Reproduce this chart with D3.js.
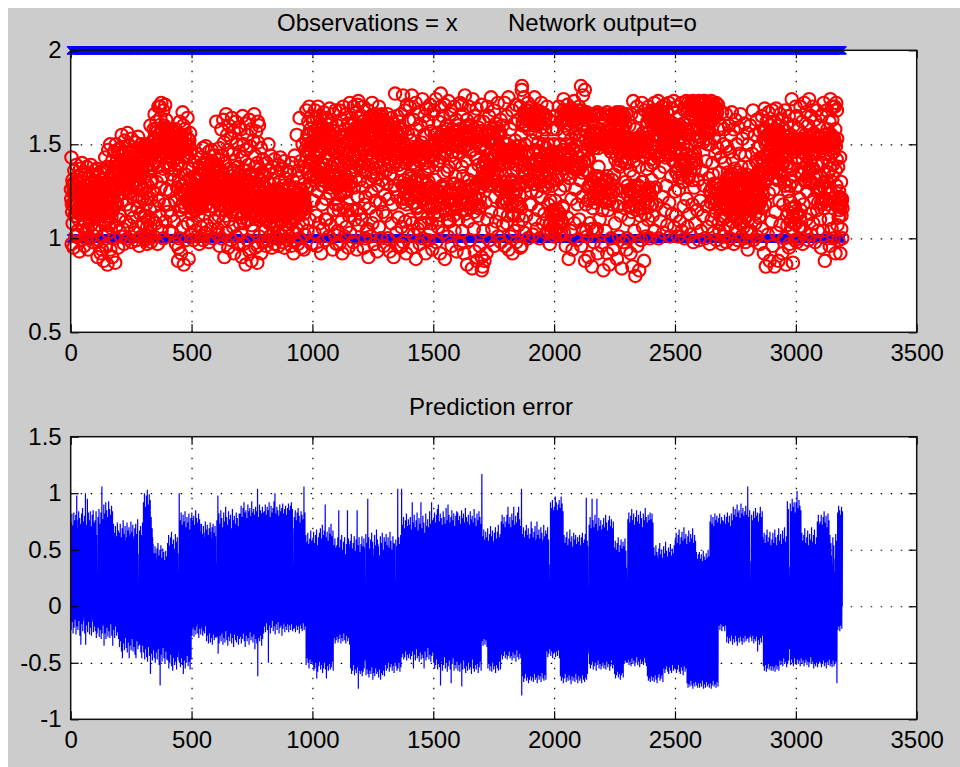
<!DOCTYPE html>
<html><head><meta charset="utf-8">
<script src="https://cdn.jsdelivr.net/npm/d3@7"></script>
<style>body{margin:0;background:#fff}svg{display:block}text{font-family:"Liberation Sans",Arial,sans-serif}</style>
</head><body><svg id="c" width="960" height="767"></svg>
<script>
// sample positions: t = tStart + i*tStep  (t = 1..3195)
const tStart = 1, tStep = 1;
const xTicks = [0,500,1000,1500,2000,2500,3000,3500];
const yTopTicks = [0.5,1,1.5,2];
const yBotTicks = [-1,-0.5,0,0.5,1,1.5];
const titleLeft = "Observations = x", titleRight = "Network output=o", title2 = "Prediction error";

// observations (class 1 or 2), one row per 100 samples
const obsA = [
2,1,2,1,2,1,2,1,2,1,2,1,2,1,2,1,2,1,2,1, 2,1,2,1,2,1,2,1,2,1,2,1,2,1,2,1,2,1,2,1, 2,1,2,1,2,1,2,1,2,1,2,1,2,1,2,1,2,1,2,1, 2,1,2,1,2,1,2,1,2,1,2,1,2,1,2,1,2,1,2,1, 2,1,2,1,2,1,2,1,2,1,2,1,2,1,2,1,2,1,2,1,
2,1,2,1,2,1,2,1,1,1,1,1,2,1,2,1,2,1,2,1, 2,1,2,1,2,1,2,1,2,1,2,1,2,1,2,1,2,1,2,1, 2,1,2,1,2,1,2,1,2,1,2,1,2,1,2,1,2,1,2,1, 2,1,2,1,2,1,2,1,2,1,2,1,2,1,2,1,2,1,2,1, 2,1,2,1,2,1,2,1,2,1,2,1,2,1,2,1,2,1,2,1,
2,1,2,1,2,1,2,1,2,1,2,1,2,1,2,1,2,1,2,1, 2,1,2,1,2,1,2,1,2,1,2,1,2,1,2,1,2,1,2,1, 2,1,2,1,2,1,2,1,2,1,2,1,2,1,2,1,2,1,2,1, 2,1,2,1,2,1,2,1,2,1,2,1,2,1,2,1,2,1,2,1, 1,1,1,1,2,1,2,1,2,1,2,1,2,1,2,1,2,1,2,1,
2,1,2,1,2,1,2,1,2,1,2,1,2,1,2,1,2,1,2,1, 2,1,2,1,2,1,2,1,2,1,2,1,2,1,2,1,2,1,2,1, 2,1,2,1,2,1,2,1,2,1,2,1,2,1,2,1,2,1,2,1, 2,1,2,1,2,1,2,1,2,1,2,1,2,1,2,1,2,1,2,1, 2,1,2,1,2,1,2,1,2,1,2,1,2,1,2,1,2,1,2,1,
2,1,2,1,2,1,2,1,2,1,2,1,2,1,2,1,2,1,2,1, 2,1,2,1,2,1,2,1,2,1,2,1,2,1,2,1,2,1,2,1, 2,1,2,1,1,1,1,1,2,1,2,1,2,1,2,1,2,1,2,1, 2,1,2,1,2,1,2,1,2,1,2,1,2,1,2,1,2,1,2,1, 2,1,2,1,2,1,2,1,2,1,2,1,2,1,2,1,2,1,2,1,
2,1,2,1,2,1,2,1,2,1,2,1,2,1,2,1,2,1,2,1, 2,1,2,1,2,1,2,1,2,1,2,1,2,1,2,1,2,1,2,1, 2,1,2,1,2,1,2,1,2,1,2,1,2,1,2,1,2,1,2,1, 2,1,2,1,2,1,2,1,2,1,2,1,2,1,2,1,2,1,2,1, 2,1,2,1,2,1,2,1,2,1,2,1,2,1,2,1,2,1,2,1,
1,2,1,1,2,1,2,1,2,1,2,1,2,1,2,1,2,1,2,1, 2,1,2,1,2,1,2,1,2,1,2,1,2,1,2,1,2,1,2,1, 2,1,2,1,2,1,2,1,2,1,2,1,2,1,2,1,2,1,2,1, 2,1,2,1,2,1,2,1,2,1,2,1,2,1,2,1,2,1,2,1, 2,1,2,1,2,1,2,1,2,1,2,1,2,1,2,1,2,1,2,1,
2,1,2,1,2,1,2,1,2,1,2,1,2,1,2,1,2,1,2,1, 2,1,2,1,2,1,2,1,2,1,2,1,2,1,2,1,2,1,2,1, 2,1,2,1,2,1,2,1,2,1,2,1,2,1,2,1,2,1,2,1, 2,1,2,1,2,1,2,1,2,1,2,1,2,1,2,1,2,1,2,1, 2,1,2,1,2,1,2,1,2,1,2,1,2,1,2,1,2,1,2,1];
const obsB = [
2,1,2,1,2,1,2,1,2,1,2,1,2,1,2,1,2,1,2,1, 2,1,2,1,2,1,2,1,2,1,2,1,2,1,2,1,2,1,2,1, 2,1,2,1,2,1,2,1,2,1,2,1,2,1,2,1,2,1,2,1, 2,1,2,1,2,1,2,1,2,1,2,1,2,1,2,1,2,1,2,1, 2,1,2,1,2,1,2,1,2,1,2,1,2,1,2,1,2,1,2,1,
2,1,2,1,2,1,2,1,2,1,2,1,2,1,2,1,2,1,2,1, 1,1,1,1,2,1,2,1,2,1,2,1,2,1,2,1,2,1,2,1, 2,1,2,1,2,1,2,1,2,1,2,1,2,1,2,1,2,1,2,1, 2,1,2,1,2,1,2,1,2,1,2,1,2,1,2,1,2,1,2,1, 2,1,2,1,2,1,2,1,2,1,2,1,2,1,2,1,2,1,2,1,
2,1,2,1,2,1,2,1,2,1,2,1,2,1,2,1,2,1,2,1, 2,1,2,1,2,1,2,1,2,1,2,1,2,1,2,1,2,1,2,1, 2,1,2,1,2,1,2,1,2,1,2,1,2,1,2,1,2,1,2,1, 2,1,2,1,2,1,2,1,2,1,2,1,2,1,2,1,2,1,2,1, 2,1,2,1,2,1,2,1,2,1,2,1,2,1,2,1,2,1,2,1,
2,1,2,1,2,1,2,1,2,1,2,1,2,1,2,1,2,1,2,1, 2,1,2,1,2,1,2,1,2,1,2,1,2,1,2,1,2,1,2,1, 2,1,2,1,2,1,2,1,2,1,2,1,2,1,2,1,2,1,2,1, 2,1,2,1,2,1,2,1,2,1,2,1,2,1,2,1,2,1,2,1, 2,1,2,1,2,1,2,1,2,1,2,1,2,1,2,1,2,1,2,1,
2,1,2,1,2,1,2,1,2,1,2,1,2,1,2,1,1,1,1,1, 2,1,2,1,2,1,2,1,2,1,2,1,2,1,2,1,2,1,2,1, 2,1,2,1,2,1,2,1,2,1,2,1,2,1,2,1,2,1,2,1, 2,1,2,1,2,1,2,1,2,1,2,1,2,1,2,1,2,1,2,1, 2,1,2,1,2,1,2,1,2,1,2,1,2,1,2,1,2,1,2,1,
2,1,2,1,2,1,2,1,2,1,2,1,2,1,2,1,2,1,2,1, 2,1,2,1,2,1,2,1,2,1,2,1,2,1,2,1,2,1,2,1, 1,2,1,1,2,1,2,1,2,1,2,1,2,1,2,1,2,1,2,1, 2,1,2,1,2,1,2,1,2,1,2,1,2,1,2,1,2,1,2,1, 2,1,2,1,2,1,2,1,2,1,2,1,2,1,2,1,2,1,2,1,
2,1,2,1,2,1,2,1,2,1,2,1,2,1,2,1,2,1,2,1, 2,1,2,1,2,1,2,1,2,1,2,1,2,1,2,1,2,1,2,1, 2,1,2,1,2,1,2,1,2,1,2,1,2,1,2,1,2,1,2,1, 2,1,2,1,2,1,2,1,2,1,2,1,2,1,2,1,2,1,2,1, 2,1,2,1,2,1,2,1,2,1,2,1,2,1,2,1,2,1,2,1,
2,1,2,1,2,1,2,1,2,1,2,1,2,1,2,1,2,1,2,1, 2,1,2,1,2,1,2,1,2,1,2,1,2,1,2,1,2,1,2,1, 2,1,2,1,2,1,2,1,2,1,2,1,2,1,2,1,2,1,2,1, 2,1,2,1,2,1,2,1,2,1,2,1,2,1,2,1,2,1,2,1, 2,1,2,1,2,1,2,1,2,1,2,1,2,1,2,1,2,1,2,1];
const obsC = [
2,1,2,1,2,1,2,1,2,1,2,1,2,1,2,1,2,1,2,1, 2,1,2,1,2,1,2,1,2,1,2,1,2,1,2,1,2,1,2,1, 2,1,2,1,2,1,2,1,2,1,2,1,2,1,2,1,2,1,2,1, 2,1,2,1,2,1,2,1,2,1,2,1,2,1,2,1,2,1,2,1, 2,1,2,1,2,1,2,1,2,1,2,1,2,1,2,1,2,1,2,1,
2,1,2,1,2,1,2,1,2,1,2,1,2,1,2,1,2,1,2,1, 2,1,2,1,2,1,2,1,2,1,2,1,2,1,2,1,2,1,2,1, 2,1,2,1,2,1,2,1,2,1,2,1,2,1,2,1,2,1,2,1, 2,1,2,1,2,1,2,1,2,1,2,1,2,1,2,1,2,1,2,1, 2,1,2,1,2,1,2,1,2,1,2,1,2,1,2,1,2,1,2,1,
2,1,2,1,2,1,2,1,2,1,2,1,2,1,2,1,2,1,2,1, 2,1,2,1,2,1,2,1,2,1,2,1,2,1,2,1,2,1,2,1, 2,1,2,1,2,1,2,1,2,1,2,1,2,1,2,1,2,1,2,1, 2,1,2,1,2,1,2,1,2,1,2,1,2,1,2,1,2,1,2,1, 2,1,2,1,2,1,2,1,2,1,2,1,2,1,2,1,2,1,2,1,
2,1,2,1,2,1,2,1,2,1,2,1,2,1,2,1,2,1,2,1, 2,1,2,1,2,1,2,1,2,1,2,1,2,1,2,1,2,1,2,1, 2,1,2,1,2,1,2,1,2,1,2,1,2,1,2,1,2,1,2,1, 2,1,2,1,2,1,2,1,2,1,2,1,2,1,2,1,2,1,2,1, 1,1,1,1,2,1,2,1,2,1,2,1,2,1,2,1,2,1,2,1,
2,1,2,1,2,1,2,1,2,1,2,1,2,1,2,1,2,1,2,1, 2,1,2,1,2,1,2,1,2,1,2,1,2,1,2,1,2,1,2,1, 2,1,2,1,2,1,2,1,2,1,2,1,2,1,2,1,2,1,2,1, 2,1,2,1,2,1,2,1,2,1,2,1,2,1,2,1,2,1,2,1, 2,1,2,1,2,1,2,1,2,1,2,1,2,1,2,1,2,1,2,1,
2,1,2,1,2,1,2,1,2,1,2,1,2,1,2,1,2,1,2,1, 2,1,2,1,2,1,2,1,2,1,2,1,2,1,2,1,2,1,2,1, 1,1,1,1,2,1,2,1,2,1,2,1,2,1,2,1,2,1,2,1, 2,1,2,1,2,1,2,1,2,1,2,1,2,1,2,1,2,1,2,1, 2,1,2,1,2,1,2,1,2,1,2,1,2,1,2,1,2,1,2,1,
2,1,2,1,2,1,2,1,2,1,2,1,2,1,2,1,2,1,2,1, 2,1,2,1,2,1,2,1,2,1,2,1,2,1,2,1,2,1,2,1, 2,1,2,1,2,1,2,1,2,1,2,1,2,1,2,1,2,1,2,1, 2,1,2,1,2,1,2,1,2,1,2,1,2,1,2,1,2,1,2,1, 2,1,2,1,2,1,2,1,2,1,2,1,2,1,2,1,2,1,2,1,
1,1,1,1,2,1,2,1,2,1,2,1,2,1,2,1,2,1,2,1, 2,1,2,1,2,1,2,1,2,1,2,1,2,1,2,1,2,1,2,1, 2,1,2,1,2,1,2,1,2,1,2,1,2,1,2,1,2,1,2,1, 2,1,2,1,2,1,2,1,2,1,2,1,2,1,2,1,2,1,2,1, 2,1,2,1,2,1,2,1,2,1,2,1,2,1,2,1,2,1,2,1];
const obsD = [
2,1,2,1,2,1,2,1,2,1,2,1,2,1,2,1,2,1,2,1, 2,1,2,1,2,1,2,1,2,1,2,1,2,1,2,1,2,1,2,1, 2,1,2,1,2,1,2,1,2,1,2,1,2,1,2,1,2,1,2,1, 2,1,2,1,2,1,2,1,2,1,2,1,2,1,2,1,2,1,2,1, 2,1,2,1,2,1,2,1,2,1,2,1,2,1,2,1,2,1,2,1,
2,1,2,1,2,1,2,1,2,1,2,1,2,1,2,1,2,1,2,1, 2,1,2,1,2,1,2,1,2,1,2,1,2,1,2,1,2,1,2,1, 2,1,2,1,2,1,2,1,2,1,2,1,2,1,2,1,2,1,2,1, 2,1,2,1,2,1,2,1,2,1,2,1,2,1,2,1,2,1,2,1, 2,1,2,1,2,1,2,1,2,1,2,1,2,1,2,1,2,1,2,1,
2,1,2,1,2,1,2,1,2,1,2,1,2,1,2,1,2,1,2,1, 2,1,2,1,2,1,2,1,2,1,2,1,2,1,2,1,2,1,2,1, 2,1,2,1,2,1,2,1,2,1,2,1,2,1,2,1,2,1,2,1, 2,1,2,1,2,1,2,1,2,1,2,1,2,1,2,1,2,1,2,1, 2,1,2,1,2,1,2,1,2,1,2,1,2,1,2,1,2,1,2,1,
2,1,2,1,2,1,2,1,2,1,2,1,2,1,2,1,2,1,2,1, 2,1,2,1,2,1,2,1,2,1,2,1,2,1,2,1,2,1,2,1, 2,1,2,1,2,1,2,1,2,1,2,1,2,1,2,1,2,1,2,1, 2,1,2,1,2,1,2,1,2,1,2,1,2,1,2,1,2,1,2,1, 2,1,2,1,2,1,2,1,2,1,2,1,2,1,2,1,2,1,2,1,
2,1,2,1,2,1,2,1,2,1,2,1,1,1,1,1,2,1,2,1, 2,1,2,1,2,1,2,1,2,1,2,1,2,1,2,1,2,1,2,1, 2,1,2,1,2,1,2,1,2,1,2,1,2,1,2,1,2,1,2,1, 2,1,2,1,2,1,2,1,2,1,2,1,2,1,2,1,2,1,2,1, 2,1,2,1,2,1,2,1,2,1,2,1,2,1,2,1,2,1,2,1,
2,1,2,1,2,1,2,1,2,1,2,1,2,1,2,1,2,1,2,1, 2,1,2,1,2,1,2,1,2,1,2,1,2,1,2,1,2,1,2,1, 2,1,2,1,2,1,2,1,2,1,2,1,2,1,2,1,2,1,2,1, 2,1,2,1,2,1,2,1,2,1,2,1,1,1,1,1,2,1,2,1, 2,1,2,1,2,1,2,1,2,1,2,1,2,1,2,1,2,1,2,1,
2,1,2,1,2,1,2,1,2,1,2,1,2,1,2,1,2,1,2,1, 2,1,2,1,2,1,2,1,2,1,2,1,2,1,2,1,2,1,2,1, 2,1,2,1,2,1,2,1,2,1,2,1,2,1,2,1,2,1,2,1, 2,1,2,1,2,1,2,1,2,1,2,1,2,1,2,1,2,1,2,1, 2,1,2,1,2,1,2,1,2,1,2,1,2,1,2,1,2,1,2,1,
2,1,2,1,2,1,2,1,2,1,2,1,2,1,2,1,2,1,2,1, 2,1,2,1,2,1,2,1,2,1,2,1,2,1,2,1,2,1,2,1, 2,1,2,1,2,1,2,1,2,1,2,1,2,1,2,1,2,1,2,1, 2,1,2,1,2,1,2,1,2,1,2,1,2,1,2,1,2,1,2,1, 2,1,2,1,2,1,2,1,2,1,2,1,2];

// network output x100, one row per 100 samples
const outA = [
126,121,143,97,118,114,131,108,129,124,128,95,117,119,136,112,124,112,126,101,119,125,139,115,102,118,133,104,131,121,124,110,116,113,129,93,122,126,137,117,127,134,127,99,118,116,140,106,113,122,130,113,125,110,125,96,120,124,135,109,100,134,128,103,128,117,138,116,105,123,126,94,117,114,132,111,124,125,124,100,116,119,139,107,130,126,129,114,119,112,134,98,115,123,127,105,126,118,136,112,
124,122,130,104,116,128,137,111,124,112,90,118,121,119,133,99,114,127,128,107,127,121,135,92,117,129,124,114,94,124,131,101,123,117,136,88,110,135,129,109,118,124,143,96,108,129,122,117,115,119,138,86,121,127,147,103,107,122,131,112,114,128,150,94,119,116,126,108,111,126,141,90,116,135,134,115,127,121,146,100,135,128,138,87,129,118,150,106,138,126,141,118,126,123,147,95,133,129,139,110,
135,136,148,112,127,131,141,101,139,140,155,120,131,146,144,105,124,133,137,97,136,139,152,126,129,128,146,109,142,137,139,118,126,141,156,100,133,132,143,124,130,146,149,107,138,135,136,115,125,139,153,98,134,129,140,122,128,140,147,111,140,136,138,103,131,143,151,127,127,146,145,99,136,131,142,116,123,138,154,106,135,120,96,128,133,134,137,113,129,141,150,101,137,146,143,121,126,135,148,108,
108,141,132,112,100,147,150,99,112,138,124,118,102,145,141,106,97,149,128,121,110,136,147,103,101,144,136,115,106,160,130,98,121,142,151,110,131,148,139,125,145,139,158,101,153,146,166,117,147,150,153,108,158,141,162,130,149,147,157,97,144,138,170,120,155,152,155,112,150,170,164,127,146,143,172,104,157,149,158,133,149,137,168,100,152,146,160,118,159,151,171,109,151,140,163,126,156,147,158,114,
144,148,150,118,137,155,157,104,147,150,146,125,139,143,158,112,134,153,151,103,145,157,147,131,141,146,156,109,150,152,149,120,136,149,158,97,143,156,145,127,139,145,153,88,140,95,131,148,100,150,162,115,124,154,139,92,117,146,155,123,128,152,167,106,119,160,143,86,125,148,158,117,116,155,134,99,130,150,149,126,121,144,164,108,126,153,137,89,118,149,152,119,132,156,145,102,122,147,130,113,
117,126,137,108,124,119,129,99,120,127,141,115,128,121,133,104,115,125,126,118,122,116,145,101,126,124,131,112,118,128,138,97,123,120,127,116,134,125,143,106,127,118,136,120,136,126,148,99,129,122,140,113,139,124,135,103,125,117,149,118,132,131,142,107,128,126,137,123,137,133,146,98,131,124,139,115,126,132,134,105,140,128,147,121,130,134,141,100,127,125,136,117,135,130,144,109,129,127,138,124,
128,162,125,120,124,127,139,105,102,142,131,112,118,133,148,96,127,126,136,118,115,131,158,100,122,124,144,123,130,134,163,109,117,128,151,90,125,132,140,115,112,122,166,103,121,130,155,121,128,135,147,95,116,127,160,110,123,131,137,117,119,124,153,99,131,133,164,124,114,128,145,106,124,136,157,92,120,125,141,119,127,130,162,101,117,132,150,113,122,126,138,97,129,134,159,122,118,129,146,108,
118,127,158,103,111,133,143,90,121,129,165,117,113,124,150,97,108,131,136,121,117,136,161,86,115,126,147,110,122,131,155,99,110,128,139,123,116,134,163,93,113,123,149,114,120,130,158,88,107,127,134,119,117,132,152,104,114,125,166,125,119,138,144,95,112,129,157,112,116,133,140,87,96,162,151,118,121,128,160,101,110,131,137,122,115,126,148,92,118,135,129,111,112,129,142,98,117,124,133,116];
const outB = [
116,118,133,104,110,123,127,96,119,115,140,110,112,121,122,99,115,150,136,113,108,117,129,101,121,124,144,108,111,119,125,95,117,113,138,112,113,122,131,103,107,118,142,97,100,125,126,115,118,116,135,100,112,121,121,107,115,114,139,96,120,124,130,114,110,119,143,102,116,117,124,109,113,126,137,98,109,120,128,116,118,115,141,95,114,123,132,105,111,118,123,111,119,121,136,99,113,116,127,106,
109,123,128,101,115,117,135,109,111,121,122,96,108,116,140,114,114,122,131,103,118,92,120,110,121,119,144,99,115,123,127,115,124,117,155,105,117,121,136,97,113,118,132,112,120,124,164,100,126,116,141,117,116,120,126,95,119,122,150,108,123,115,138,113,94,121,129,102,117,118,147,116,137,152,168,126,143,146,155,104,135,150,162,135,145,155,170,110,140,147,158,128,133,151,165,97,142,149,151,120,
141,152,162,120,134,157,150,103,144,155,168,131,137,150,147,112,132,164,158,96,146,158,170,125,139,153,153,108,135,149,165,134,131,156,146,92,140,152,160,118,128,159,151,105,137,155,167,128,133,150,143,99,110,156,158,121,139,164,149,110,134,153,163,133,142,157,145,101,130,151,169,124,136,156,154,107,127,154,161,129,138,149,148,94,133,157,166,115,146,128,157,102,140,133,168,118,148,130,151,97,
146,127,160,104,139,132,152,118,115,129,168,97,148,125,149,123,141,133,163,109,137,128,155,92,150,131,170,116,143,124,147,101,139,130,158,125,154,133,166,106,145,126,151,119,115,131,161,95,140,128,145,112,147,134,172,103,142,155,156,130,136,160,164,115,149,157,149,98,144,152,170,127,138,161,153,110,151,156,167,136,141,159,158,94,115,154,171,122,146,173,150,107,139,157,164,131,152,160,155,113,
145,157,165,110,138,162,152,127,147,158,170,95,140,155,148,118,148,100,135,122,136,161,161,104,144,156,150,130,105,160,168,90,139,163,155,116,149,157,164,101,141,160,147,125,135,154,172,108,143,165,157,133,155,159,149,97,137,162,166,120,146,155,152,112,132,160,162,93,141,158,145,128,147,163,170,106,155,156,158,119,138,165,149,100,144,159,166,131,135,161,153,114,150,157,163,96,139,162,146,123,
143,152,160,112,136,157,148,129,146,155,166,100,139,150,152,121,148,158,158,93,134,154,147,134,142,151,164,108,150,157,150,118,138,153,161,90,144,159,145,126,128,177,150,140,141,153,156,103,147,157,165,122,96,155,149,111,139,150,162,95,145,158,151,130,137,154,166,106,96,145,158,119,128,142,176,98,121,147,150,127,131,145,168,109,124,140,140,92,118,148,171,121,129,143,156,104,123,146,163,133,
128,142,170,110,121,147,152,128,132,144,176,95,108,140,145,119,126,155,163,102,119,143,139,131,130,148,172,89,124,138,158,116,117,146,148,105,133,144,167,124,122,149,141,97,127,141,160,113,108,147,151,130,131,143,174,100,120,146,143,121,126,155,165,108,135,140,155,92,118,148,169,125,129,145,146,111,123,137,162,99,130,147,138,127,116,143,171,104,127,149,157,118,108,144,149,94,124,141,166,122,
123,150,168,113,117,155,147,131,126,152,174,98,119,147,156,122,114,156,139,106,110,151,162,141,125,154,150,92,118,170,177,118,122,149,143,127,128,157,165,103,116,152,153,135,121,145,171,89,127,155,146,115,113,150,160,124,124,158,136,101,110,153,173,138,119,148,155,109,126,156,166,120,121,168,144,96,115,151,158,129,124,146,149,112,118,157,170,104,129,152,140,133,120,155,163,93,116,149,152,117];
const outC = [
117,157,160,110,124,152,145,128,120,158,172,97,127,150,152,119,115,171,138,104,122,156,166,133,118,148,149,92,126,155,176,115,113,159,141,125,121,153,163,86,125,157,155,109,119,150,170,131,128,156,146,99,116,154,160,118,123,160,136,84,120,147,174,127,126,155,151,105,114,158,165,93,122,152,143,121,129,156,169,88,118,151,156,112,124,159,139,130,116,154,162,96,121,149,148,117,127,157,171,90,
83,131,150,85,138,135,162,104,132,129,141,88,141,134,156,119,134,130,147,92,139,136,170,110,131,155,152,128,142,151,165,99,136,157,145,137,129,153,175,114,138,158,158,105,133,150,142,131,144,156,168,96,135,153,150,122,130,159,161,109,140,152,146,140,134,155,172,101,128,157,155,126,139,149,148,113,136,156,163,98,125,143,139,130,119,147,160,107,127,144,151,119,121,140,172,96,130,146,146,134,
125,143,165,108,119,147,150,126,112,144,175,94,127,140,140,117,121,146,158,101,130,144,147,131,118,148,168,92,124,141,136,113,112,146,161,104,128,143,152,124,120,149,171,98,126,139,143,119,117,145,163,107,112,147,149,129,123,142,170,95,129,146,155,116,96,179,181,110,136,162,160,139,130,167,175,103,139,164,150,124,133,160,168,112,128,166,145,146,137,163,172,100,131,168,158,131,140,165,163,118,
136,162,170,118,125,166,152,140,131,163,161,102,139,167,145,129,134,160,175,110,129,165,156,147,142,163,140,105,125,168,168,133,137,161,151,115,132,165,163,100,140,162,146,138,130,167,172,122,135,159,155,108,143,164,141,150,128,166,166,113,138,161,158,127,133,165,148,103,136,140,170,135,130,145,150,118,141,142,163,107,138,97,130,120,108,144,140,104,113,140,158,128,106,146,131,112,115,142,150,101,
112,141,165,120,103,145,145,105,108,140,158,131,115,144,133,112,110,139,170,102,106,146,150,126,113,162,139,108,103,166,162,134,109,163,147,117,116,168,174,103,137,164,155,128,144,160,166,96,139,167,150,140,134,163,171,111,146,166,158,89,140,161,145,132,132,165,168,104,143,169,153,121,138,162,162,94,148,166,147,137,135,163,173,108,141,167,156,126,137,160,149,99,145,165,166,118,139,168,152,143,
143,162,170,110,137,166,155,131,146,164,181,96,139,168,160,122,135,161,176,105,144,165,158,140,141,167,179,88,136,163,152,118,104,165,167,101,142,160,147,127,120,90,135,142,128,151,166,108,121,155,150,129,131,152,163,85,105,149,157,116,124,156,166,98,130,153,148,133,119,150,165,104,127,157,155,121,105,152,167,92,133,148,151,138,122,155,166,110,129,151,158,126,124,156,164,96,132,153,153,115,
128,150,166,83,122,155,150,120,130,152,163,104,119,156,156,131,126,149,167,92,133,154,148,115,124,151,165,86,120,157,158,127,129,153,146,100,123,148,166,118,131,155,155,94,125,152,164,134,148,160,166,108,142,164,155,126,150,161,167,89,144,158,160,117,139,163,166,101,152,160,153,138,146,165,167,112,141,161,158,84,149,159,166,125,143,163,151,98,147,151,165,116,140,148,160,130,151,150,166,94,
100,140,150,128,123,147,145,110,117,152,160,125,126,149,136,92,120,153,166,117,114,146,150,85,124,151,173,133,118,148,141,104,128,153,158,80,121,150,146,121,115,145,170,96,125,152,153,128,119,149,138,83,127,154,165,112,116,147,149,99,122,151,172,130,130,149,156,106,118,152,143,88,124,146,168,124,113,150,152,101,121,153,160,137,126,162,146,110,119,166,170,127,124,164,157,100,117,167,139,142];
const outD = [
123,162,150,131,118,166,168,112,126,163,158,140,148,167,172,104,155,161,160,127,146,165,166,118,152,168,155,143,158,163,173,100,149,160,161,135,144,166,168,109,154,164,157,146,150,161,170,122,157,167,163,103,147,155,156,138,153,159,171,115,143,156,160,128,151,153,167,107,156,158,158,144,148,160,172,119,152,154,162,101,145,157,155,133,155,159,169,113,149,152,161,141,153,157,173,106,146,155,158,125,
141,155,160,112,135,159,148,135,144,156,170,101,137,152,153,126,132,158,165,109,146,160,145,141,139,154,172,104,134,157,156,130,142,161,150,117,130,153,168,100,140,158,158,139,136,155,173,121,145,168,147,106,138,172,164,132,133,169,155,113,143,171,171,102,136,166,150,143,140,170,166,118,131,173,158,98,144,168,172,127,137,171,145,108,142,167,163,140,152,170,170,115,158,172,160,131,154,168,173,99,
152,172,165,120,158,168,172,104,154,171,161,136,160,166,168,112,151,173,158,128,156,169,173,100,159,172,164,141,153,167,160,117,157,171,170,106,150,169,157,132,156,172,166,97,125,168,150,125,119,173,162,110,127,170,140,134,121,166,170,103,129,171,153,121,118,169,145,114,124,172,165,99,120,167,148,129,126,171,158,108,122,117,135,104,118,121,160,112,127,116,143,97,121,122,167,110,124,118,150,101,
125,118,158,104,119,122,140,111,127,117,166,98,121,132,149,115,117,127,135,107,126,133,160,121,120,128,146,100,129,131,155,117,118,126,167,109,124,134,142,124,112,129,158,97,119,132,137,113,114,126,163,105,121,131,150,120,110,135,132,99,117,128,159,116,115,132,145,108,122,127,166,125,109,131,138,101,118,134,153,118,113,128,128,106,120,132,161,122,116,126,144,98,111,131,134,112,119,129,156,103,
94,128,150,110,121,132,138,122,115,127,160,104,103,125,118,128,119,131,145,115,124,126,168,99,116,133,132,124,122,129,155,108,113,131,141,117,120,127,163,101,117,140,148,126,125,130,136,111,118,134,157,97,112,128,143,120,121,132,165,105,116,126,139,123,141,153,158,92,135,157,169,118,144,152,150,85,137,158,162,131,132,155,146,102,143,151,167,124,139,156,155,88,134,153,160,137,146,157,149,109,
141,153,168,96,135,157,152,126,144,154,162,85,132,158,145,114,139,152,169,103,146,156,155,131,137,153,160,88,131,157,147,120,142,148,166,107,136,152,151,135,145,149,163,92,133,153,144,118,140,146,158,100,130,151,168,128,143,149,149,86,138,154,161,112,107,151,140,125,114,148,165,95,138,97,128,120,109,152,155,105,116,147,174,130,105,150,137,87,112,153,160,116,108,146,146,99,117,151,170,127,
108,152,165,112,98,147,143,128,113,151,158,100,106,148,135,121,111,153,170,106,115,146,150,134,135,151,162,97,142,148,146,118,137,153,172,104,131,150,155,130,144,147,167,110,139,152,148,125,133,149,160,99,146,154,174,137,136,150,152,113,141,145,165,102,130,151,145,129,143,149,170,108,137,155,156,121,132,151,163,98,145,153,149,133,139,150,168,115,125,154,140,104,119,151,160,126,127,149,133,110,
125,150,150,95,119,154,165,118,128,151,140,104,121,148,172,130,116,153,155,88,126,150,145,121,120,155,168,100,130,149,158,127,118,152,135,110,124,147,162,96,137,153,174,125,144,150,155,105,170,154,163,133,139,148,150,100,146,153,170,119,170,151,158,92,136,149,172,128,142,168,153,107,117,121,138,99,111,118,125,112,115,122,143,92,119,117,130,105,112,120,121,100,116,121,130];

const obs = [].concat(obsA, obsB, obsC, obsD);
const out = [].concat(outA, outB, outC, outD);
const n = Math.min(obs.length, out.length);
const rows = d3.range(n).map(i => ({ t: tStart + i * tStep, obs: obs[i], out: out[i] / 100, err: obs[i] - out[i] / 100 }));

const svg = d3.select("#c");
svg.append("rect").attr("x", 8).attr("y", 8).attr("width", 952).attr("height", 759).attr("fill", "#cccccc");

const X0 = 70.7, X1 = 916.7;
const x = d3.scaleLinear().domain([0, 3500]).range([X0, X1]);
const FS = "24px";

function panel(yTopPx, yBotPx, yDomain, yTicks, drawData) {
  const y = d3.scaleLinear().domain(yDomain).range([yBotPx, yTopPx]);
  const g = svg.append("g");
  g.append("rect").attr("x", X0).attr("y", yTopPx).attr("width", X1 - X0).attr("height", yBotPx - yTopPx).attr("fill", "#ffffff");
  const gridStyle = s => { s.select(".domain").remove(); s.selectAll("line").attr("stroke", "#000").attr("stroke-width", 1.2).attr("stroke-dasharray", "1.5,8.5"); };
  g.append("g").attr("transform", `translate(0,${yBotPx})`)
    .call(d3.axisBottom(x).tickValues(xTicks.slice(1, -1)).tickSize(-(yBotPx - yTopPx)).tickFormat(""))
    .call(gridStyle);
  g.append("g").attr("transform", `translate(${X0},0)`)
    .call(d3.axisLeft(y).tickValues(yTicks.slice(1, -1)).tickSize(-(X1 - X0)).tickFormat(""))
    .call(gridStyle);
  drawData(g, y);
  const tickStyle = s => { s.select(".domain").remove(); s.selectAll("line").attr("stroke", "#000").attr("stroke-width", 1.2);
    s.selectAll("text").attr("font-size", FS).attr("fill", "#000").attr("font-family", '"Liberation Sans", Arial, sans-serif'); };
  g.append("g").attr("transform", `translate(0,${yBotPx})`)
    .call(d3.axisBottom(x).tickValues(xTicks).tickSize(-8).tickPadding(12).tickFormat(d => String(d))).call(tickStyle);
  g.append("g").attr("transform", `translate(0,${yTopPx})`)
    .call(d3.axisTop(x).tickValues(xTicks).tickSize(-8).tickFormat("")).call(tickStyle);
  g.append("g").attr("transform", `translate(${X0},0)`)
    .call(d3.axisLeft(y).tickValues(yTicks).tickSize(-8).tickPadding(9).tickFormat(d => String(d))).call(tickStyle);
  g.append("g").attr("transform", `translate(${X1},0)`)
    .call(d3.axisRight(y).tickValues(yTicks).tickSize(-8).tickFormat("")).call(tickStyle);
  g.append("rect").attr("x", X0).attr("y", yTopPx).attr("width", X1 - X0).attr("height", yBotPx - yTopPx)
    .attr("fill", "none").attr("stroke", "#111").attr("stroke-width", 1.5);
  return y;
}

// top panel: observations (x) and network output (o)
panel(50.3, 332.3, [0.5, 2], yTopTicks, (g, y) => {
  g.append("g").selectAll("path").data(rows).join("path")
    .attr("d", "M-4,-4L4,4M-4,4L4,-4")
    .attr("transform", d => `translate(${x(d.t)},${y(d.obs)})`)
    .attr("fill", "none").attr("stroke", "#0000ff").attr("stroke-width", 1.2);
  g.append("g").selectAll("circle").data(rows).join("circle")
    .attr("cx", d => x(d.t)).attr("cy", d => y(d.out)).attr("r", 6.2)
    .attr("fill", "none").attr("stroke", "#ff0000").attr("stroke-width", 2.1);
});

// bottom panel: prediction error
panel(436.7, 719.3, [-1, 1.5], yBotTicks, (g, y) => {
  g.append("path").datum(rows)
    .attr("d", d3.line().x(d => x(d.t)).y(d => y(d.err)))
    .attr("fill", "none").attr("stroke", "#0000ff").attr("stroke-width", 1.2);
});

// titles
svg.append("text").attr("x", 277).attr("y", 31).attr("font-size", FS).attr("fill", "#000").text(titleLeft);
svg.append("text").attr("x", 508).attr("y", 31).attr("font-size", FS).attr("fill", "#000").text(titleRight);
svg.append("text").attr("x", 491).attr("y", 415).attr("text-anchor", "middle").attr("font-size", FS).attr("fill", "#000").text(title2);
</script></body></html>
